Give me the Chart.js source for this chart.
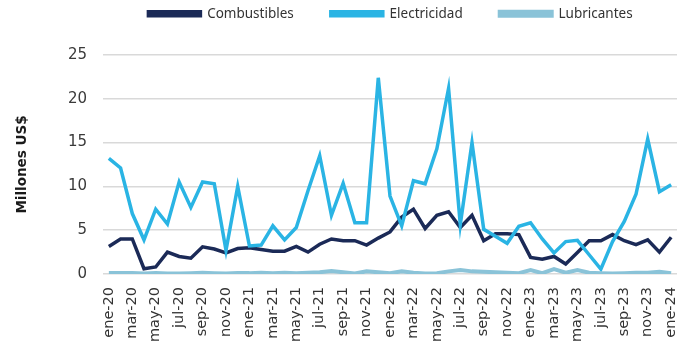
<!DOCTYPE html>
<html>
<head>
<meta charset="utf-8">
<script src="https://cdn.jsdelivr.net/npm/chart.js@4.4.1/dist/chart.umd.min.js"></script>
<style>
    html, body { margin: 0; padding: 0; background: #ffffff; }
    #wrap { width: 690px; height: 341px; }
</style>
</head>
<body>
<div id="wrap"><canvas id="fuelChart"></canvas></div>
<script>
const months = ['ene','feb','mar','abr','may','jun','jul','ago','sep','oct','nov','dic'];
const labels = [];
for (let y = 20; y <= 24; y++) {
    for (let m = 0; m < 12; m++) {
        if (y === 24 && m > 0) break;
        labels.push(months[m] + '-' + y);
    }
}

const combustibles = [3.15, 4.0, 4.0, 0.6, 0.8, 2.5, 2.0, 1.8, 3.1, 2.85, 2.4, 2.9,
    3.0, 2.8, 2.6, 2.6, 3.15, 2.5, 3.4, 4.0, 3.8, 3.8, 3.3, 4.1,
    4.8, 6.5, 7.4, 5.2, 6.7, 7.1, 5.3, 6.7, 3.8, 4.6, 4.6, 4.5,
    1.9, 1.7, 2.0, 1.15, 2.45, 3.8, 3.8, 4.5, 3.8, 3.35, 3.9, 2.5, 4.2];

const electricidad = [13.2, 12.1, 6.9, 3.9, 7.4, 5.7, 10.5, 7.6, 10.5, 10.3, 2.7, 10.0,
    3.2, 3.3, 5.5, 3.9, 5.3, 9.5, 13.5, 6.7, 10.35, 5.85, 5.85, 22.4,
    8.9, 5.5, 10.65, 10.3, 14.3, 21.2, 5.65, 15.0, 5.1, 4.3, 3.5, 5.45,
    5.85, 4.0, 2.4, 3.7, 3.85, 2.2, 0.55, 3.7, 6.0, 9.1, 15.4, 9.4, 10.2];

const lubricantes = [0.1, 0.1, 0.1, 0.05, 0.1, 0.05, 0.05, 0.1, 0.15, 0.1, 0.05, 0.1,
    0.1, 0.15, 0.1, 0.15, 0.1, 0.15, 0.2, 0.35, 0.2, 0.05, 0.3, 0.2,
    0.1, 0.3, 0.15, 0.05, 0.1, 0.3, 0.45, 0.3, 0.25, 0.2, 0.15, 0.1,
    0.45, 0.1, 0.55, 0.15, 0.45, 0.15, 0.1, 0.05, 0.1, 0.15, 0.15, 0.25, 0.1];

const yTicks = [0, 5, 10, 15, 20, 25];

Chart.defaults.font.family = "'DejaVu Sans', sans-serif";
Chart.defaults.color = '#333333';

function makeSeries(label, data, color, width) {
    return {
        label: label,
        data: data,
        borderColor: color,
        backgroundColor: color,
        borderWidth: width,
        pointRadius: 0,
        tension: 0,
        fill: false
    };
}

// legend: fixed height above the plot, nudged into place like the original
const legendPlacer = {
    id: 'legendPlacer',
    beforeInit(chart) {
        const fit = chart.legend.fit;
        chart.legend.fit = function () {
            fit.call(this);
            this.height = 55;
        };
    },
    afterLayout(chart) {
        const lg = chart.legend;
        lg.top = -30;
        lg.left += 52;
        lg.right += 52;
    }
};

const ctx = document.getElementById('fuelChart').getContext('2d');
new Chart(ctx, {
    type: 'line',
    data: {
        labels: labels,
        datasets: [
            makeSeries('Lubricantes', lubricantes, '#8ac3d8', 4),
            makeSeries('Electricidad', electricidad, '#2ab4e4', 3.5),
            makeSeries('Combustibles', combustibles, '#1b2a57', 3.5)
        ]
    },
    plugins: [legendPlacer],
    options: {
        responsive: true,
        maintainAspectRatio: false,
        animation: false,
        layout: {
            padding: { left: 0, right: 13, top: 0, bottom: 0 }
        },
        plugins: {
            legend: {
                position: 'top',
                reverse: true,
                labels: {
                    boxWidth: 52,
                    boxHeight: 4,
                    padding: 37,
                    color: '#333333',
                    font: { family: "'Noto Sans', sans-serif", size: 13.5 }
                }
            },
            tooltip: { enabled: false }
        },
        scales: {
            x: {
                offset: true,
                grid: { display: false },
                border: { display: false },
                afterFit: function (scale) {
                    scale.height = 67;
                    scale.paddingLeft = 0;
                    scale.paddingRight = 0;
                },
                ticks: {
                    autoSkip: false,
                    maxRotation: 90,
                    minRotation: 90,
                    padding: 5,
                    font: { size: 14.5 },
                    color: '#333333',
                    callback: function (value, index) {
                        return index % 2 === 0 ? labels[index] : '';
                    }
                }
            },
            y: {
                min: 0,
                max: 25,
                afterBuildTicks: function (axis) {
                    axis.ticks = yTicks.map(v => ({ value: v }));
                },
                afterFit: function (scale) { scale.width = 103; },
                grid: { color: '#d9d9d9', lineWidth: 1.5, drawTicks: false },
                border: { display: false },
                ticks: {
                    padding: 16,
                    font: { size: 15 },
                    color: '#3a3a3a'
                },
                title: {
                    display: true,
                    text: 'Millones US$',
                    font: { size: 13.5, weight: 'bold' },
                    color: '#1a1a1a',
                    padding: { top: 14, bottom: 0 }
                }
            }
        }
    }
});
</script>
</body>
</html>
